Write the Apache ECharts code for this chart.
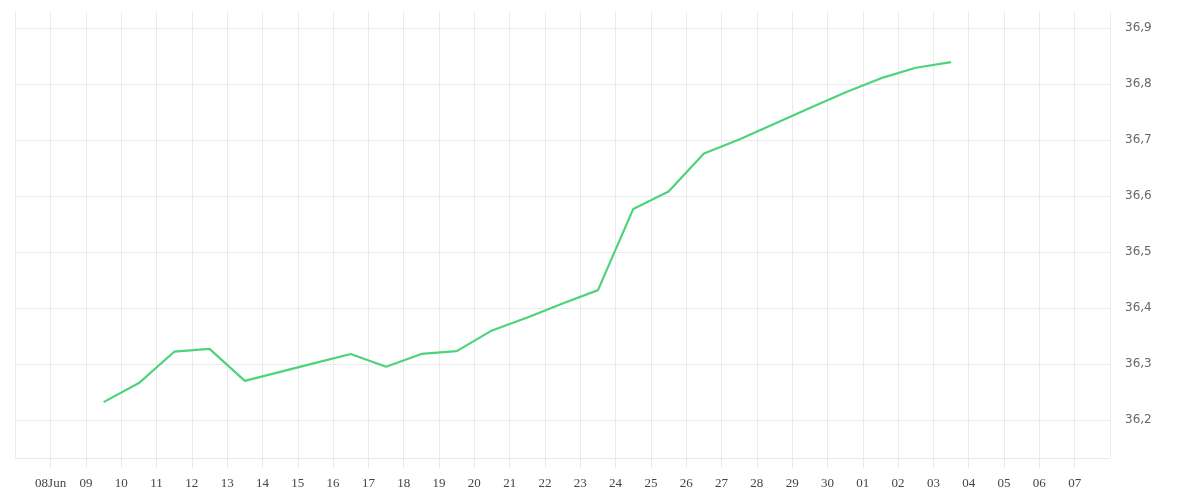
<!DOCTYPE html>
<html>
<head>
<meta charset="utf-8">
<script src="https://cdn.jsdelivr.net/npm/echarts@6/dist/echarts.min.js"></script>
<style>
html,body{margin:0;padding:0;background:#fff;}
#chart{width:1200px;height:500px;}
</style>
</head>
<body>
<div id="chart"></div>
<script>
const dates = ['2024-06-09','2024-06-10','2024-06-11','2024-06-12','2024-06-13','2024-06-14','2024-06-15','2024-06-16','2024-06-17','2024-06-18','2024-06-19','2024-06-20','2024-06-21','2024-06-22','2024-06-23','2024-06-24','2024-06-25','2024-06-26','2024-06-27','2024-06-28','2024-06-29','2024-06-30','2024-07-01','2024-07-02','2024-07-03'];
const values = [36.232,36.266,36.322,36.327,36.270,36.286,36.302,36.318,36.295,36.318,36.323,36.360,36.383,36.408,36.432,36.577,36.608,36.676,36.701,36.729,36.757,36.785,36.810,36.829,36.839];
const tickLabels = ['08Jun','09','10','11','12','13','14','15','16','17','18','19','20','21','22','23','24','25','26','27','28','29','30','01','02','03','04','05','06','07'];
const axisStart = '2024-06-07';
const axisEnd = '2024-07-08';
const yMin = 36.1313, yMax = 36.9286;

const DAY = 86400000;
function utc(s, h){ const p = s.split('-').map(Number); return Date.UTC(p[0], p[1]-1, p[2], h||0); }
const xMin = utc(axisStart), xMax = utc(axisEnd);
const seriesData = dates.map((d,i)=>[utc(d,12), values[i]]);

const chart = echarts.init(document.getElementById('chart'));
chart.setOption({
  animation:false,
  backgroundColor:'#fff',
  grid:{left:15.3, right:90, top:12, bottom:41.5, containLabel:false},
  xAxis:{
    type:'value', min:xMin, max:xMax, interval:DAY,
    axisLine:{show:true, lineStyle:{color:'#e8e8e8', width:1}},
    axisTick:{show:true, length:9, lineStyle:{color:'#e8e8e8'}},
    splitLine:{show:true, lineStyle:{color:'#ebebeb', width:1}},
    axisLabel:{
      margin:19, color:'#444', fontFamily:'Liberation Serif', fontSize:13,
      showMinLabel:false, showMaxLabel:false,
      formatter:function(v){ const i = Math.round((v - xMin)/DAY) - 1; return (i>=0 && i<tickLabels.length) ? tickLabels[i] : ''; }
    }
  },
  yAxis:{
    type:'value', position:'right', min:yMin, max:yMax,
    splitNumber:8, minInterval:0.1, maxInterval:0.1,
    axisLine:{show:false}, axisTick:{show:false},
    splitLine:{show:true, showMinLine:false, showMaxLine:false, lineStyle:{color:'#ebebeb', width:1}},
    axisLabel:{
      margin:15, color:'#666', fontFamily:'DejaVu Sans', fontSize:12,
      padding:[5,0,0,0],
      showMinLabel:false, showMaxLabel:false,
      formatter:function(v){ return v.toFixed(1).replace('.', ','); }
    }
  },
  series:[{
    type:'line', data:seriesData, showSymbol:false, symbol:'none',
    lineStyle:{color:'#4cd37b', width:2.2}, itemStyle:{color:'#4cd37b'}
  }]
});
</script>
</body>
</html>
